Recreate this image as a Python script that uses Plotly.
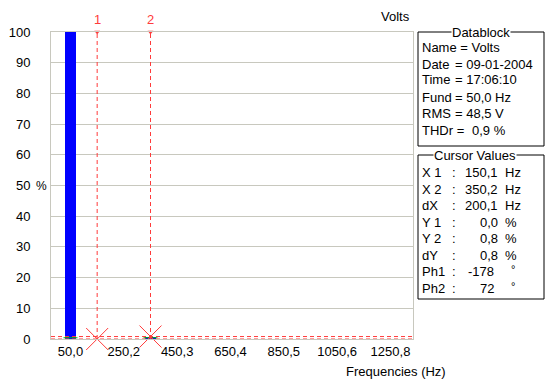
import plotly.graph_objects as go

# ---- spectrum data (harmonic amplitudes in % of fundamental) ----
fund_hz = 50.03
harmonic_order = list(range(1, 26))
harmonic_pct = [100.0, 0.0, 0.0, 0.0, 0.0, 0.0, 0.8, 0.0, 0.0, 0.0,
                0.0, 0.0, 0.0, 0.0, 0.0, 0.0, 0.0, 0.0, 0.0, 0.0,
                0.0, 0.0, 0.0, 0.0, 0.0]
harmonic_hz = [round(n * fund_hz, 2) for n in harmonic_order]

# x tick positions/labels (every 4th harmonic)
tick_orders = [1, 5, 9, 13, 17, 21, 25]
tick_labels = ["50,0", "250,2", "450,3", "650,4", "850,5", "1050,6", "1250,8"]
y_ticks = [0, 10, 20, 30, 40, 50, 60, 70, 80, 90, 100]
y_tick_labels = ["0", "10", "20", "30", "40", "50", "60", "70", "80", "90", "100"]
y_unit = "%"
y_unit_at = 50

# ---- cursors ----
cursor_names = ["1", "2"]
cursor_x = [150.1, 350.2]
cursor_y = [0.0, 0.8]
cursor_phase = [-178, 72]

# ---- datablock ----
data_labels = ["Name = Volts", "Date", "Time", "Fund", "RMS", "THDr ="]
data_values = ["", "= 09-01-2004", "= 17:06:10", "= 50,0 Hz", "= 48,5 V", "0,9 %"]

W, H = 546, 381
L, R, T, B = 51, 413, 32, 339


def px(x):
    return (x - L) / (R - L)


def py(y):
    return (B - y) / (B - T)


def fmt(v):
    return f"{v:.1f}".replace(".", ",")


RED = "#ff3b3b"
GRID = "#c8c8be"
FONT = "Liberation Sans, Arial, sans-serif"

fig = go.Figure()

# harmonic bars
fig.add_trace(go.Bar(
    x=harmonic_hz, y=harmonic_pct, width=41,
    marker=dict(color="#0000ff", line=dict(width=0)),
    showlegend=False, hoverinfo="skip",
))

# green base ticks on non-zero harmonics
nz_x = [x for x, v in zip(harmonic_hz, harmonic_pct) if v > 0]
fig.add_trace(go.Scatter(
    x=nz_x, y=[0.4] * len(nz_x), mode="markers",
    marker=dict(symbol="line-ew", size=10, color="#00c000",
                line=dict(color="#00c000", width=1)),
    showlegend=False, hoverinfo="skip", cliponaxis=False,
))

# cursor crosses
fig.add_trace(go.Scatter(
    x=cursor_x, y=cursor_y, mode="markers",
    marker=dict(symbol="x-thin-open", size=22, color=RED,
                line=dict(color=RED, width=1)),
    showlegend=False, hoverinfo="skip", cliponaxis=False,
))

# cursor top arrows
fig.add_trace(go.Scatter(
    x=cursor_x, y=[100] * len(cursor_x), mode="markers",
    marker=dict(symbol="triangle-down", size=5, color=RED),
    showlegend=False, hoverinfo="skip", cliponaxis=False,
))

shapes = []
for cx in cursor_x:
    shapes.append(dict(type="line", xref="x", yref="y", x0=cx, x1=cx, y0=0, y1=100,
                       line=dict(color=RED, width=1, dash="4px,3px")))
for cy in cursor_y:
    shapes.append(dict(type="line", xref="paper", yref="y", x0=0, x1=1, y0=cy, y1=cy,
                       line=dict(color=RED, width=1, dash="4px,3px")))

# side boxes
shapes.append(dict(type="rect", xref="paper", yref="paper",
                   x0=px(418), x1=px(544), y0=py(146), y1=py(32),
                   line=dict(color="black", width=1)))
shapes.append(dict(type="rect", xref="paper", yref="paper",
                   x0=px(418), x1=px(544), y0=py(299), y1=py(155),
                   line=dict(color="black", width=1)))

ann = []
for name, cx in zip(cursor_names, cursor_x):
    ann.append(dict(x=cx, y=100, xref="x", yref="y", text=name, showarrow=False,
                    yanchor="bottom", yshift=3, font=dict(color=RED, size=13, family=FONT)))

# unit sign after the 50 tick label
ann.append(dict(x=px(34), y=y_unit_at, xref="paper", yref="y", text=y_unit,
                showarrow=False, xanchor="left", yanchor="middle",
                font=dict(size=12, color="black", family=FONT)))


def txt(x, y, s, anchor="left", size=13, bg=None):
    d = dict(x=px(x), y=py(y), xref="paper", yref="paper", text=s, showarrow=False,
             xanchor=anchor, yanchor="middle", font=dict(size=size, color="black", family=FONT))
    if bg:
        d.update(bgcolor=bg, borderpad=0)
    return d


ann.append(txt(412, 17, "Volts", "right"))
ann.append(txt(448, 371, "Frequencies (Hz)", "right"))

# Datablock
ann.append(txt(481, 32, "Datablock", "center", bg="white"))
rows_y = [47, 64, 80, 97, 113, 130]
for lab, val, yy in zip(data_labels, data_values, rows_y):
    ann.append(txt(420, yy, lab))
    if val:
        ann.append(txt(470 if lab.startswith("THDr") else 453, yy, val))

# Cursor values
ann.append(txt(475, 155, "Cursor Values", "center", bg="white"))
dx = cursor_x[1] - cursor_x[0]
dy = cursor_y[1] - cursor_y[0]
cur_rows = [
    ("X 1", fmt(cursor_x[0]), "Hz"),
    ("X 2", fmt(cursor_x[1]), "Hz"),
    ("dX", fmt(dx), "Hz"),
    ("Y 1", fmt(cursor_y[0]), "%"),
    ("Y 2", fmt(cursor_y[1]), "%"),
    ("dY", fmt(dy), "%"),
    ("Ph1", str(cursor_phase[0]), "°"),
    ("Ph2", str(cursor_phase[1]), "°"),
]
cur_y = [172, 189, 205, 222, 238, 255, 271, 288]
for (lab, num, unit), yy in zip(cur_rows, cur_y):
    ann.append(txt(420, yy, lab))
    ann.append(txt(450, yy, ":"))
    if unit == "°":
        ann.append(txt(496, yy, num, "right"))
        ann.append(txt(509, yy - 2, unit, size=11))
    else:
        ann.append(txt(500, yy, num, "right"))
        ann.append(txt(503, yy, unit))

lo = fund_hz - 19.5 / 0.2665
hi = fund_hz + 342.5 / 0.2665

fig.update_layout(
    width=W, height=H,
    margin=dict(l=L, r=W - R, t=T, b=H - B),
    paper_bgcolor="white", plot_bgcolor="white",
    font=dict(family=FONT, size=13, color="black"),
    bargap=0,
    shapes=shapes, annotations=ann,
    xaxis=dict(range=[lo, hi], tickmode="array", automargin=False,
               tickvals=[n * fund_hz for n in tick_orders], ticktext=tick_labels,
               showgrid=False, zeroline=False, showline=True, mirror=True,
               linecolor=GRID, linewidth=1, ticks="", tickfont=dict(size=13)),
    yaxis=dict(range=[0, 100], tickmode="array", tickvals=y_ticks, ticktext=y_tick_labels,
               automargin=False,
               showgrid=True, gridcolor=GRID, gridwidth=1, zeroline=False,
               showline=True, mirror=True, linecolor=GRID, linewidth=1,
               ticks="", ticklabelstandoff=17, tickfont=dict(size=13)),
)

fig.write_html("out.html")
